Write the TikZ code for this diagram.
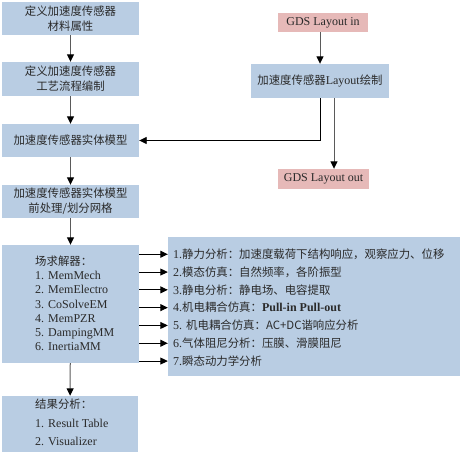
\documentclass[tikz,border=0pt]{standalone}
\usepackage{fontspec}
\setmainfont{Liberation Serif}
\newfontfamily\cjk[Scale=0.95]{Noto Sans CJK SC}
\usetikzlibrary{arrows.meta}
\newcommand\zh[1]{{\cjk #1}}
\definecolor{boxblue}{HTML}{B9CDE3}
\definecolor{boxpink}{HTML}{E6B9B8}
\definecolor{txt}{HTML}{2A2A2A}
\definecolor{vgray}{HTML}{5A5A5A}
\begin{document}
\begin{tikzpicture}[x=1pt,y=-1pt,
  font=\fontsize{12}{15}\selectfont, text=txt,
  bluebox/.style={fill=boxblue,inner sep=0pt,align=center},
  pinkbox/.style={fill=boxpink,inner sep=0pt,align=center},
  line/.style={anchor=base west,inner sep=0pt,text height=8.5pt,text depth=0pt},
  varr/.style={draw=vgray,line width=1pt,-{Triangle[length=7.5pt,width=7pt,color=black]}},
  harr/.style={draw=black,line width=0.9pt,-{Triangle[length=7.5pt,width=7pt,color=black]}}]
\useasboundingbox (0,0) rectangle (465,454);

% left column
\node[bluebox,minimum width=137pt,minimum height=33pt] (b1) at (70.5,18.5) {\zh{定义加速度传感器}\\\zh{材料属性}};
\node[bluebox,minimum width=137pt,minimum height=34pt] (b2) at (70.5,79) {\zh{定义加速度传感器}\\\zh{工艺流程编制}};
\node[bluebox,minimum width=137pt,minimum height=33pt] (b3) at (70.5,140.5) {\zh{加速度传感器实体模型}};
\node[bluebox,minimum width=137pt,minimum height=33pt] (b4) at (70.5,201.5) {\zh{加速度传感器实体模型}\\\zh{前处理/划分网格}};
\node[bluebox,minimum width=137pt,minimum height=118pt] (solver) at (70.5,304) {};
\node[bluebox,minimum width=136pt,minimum height=56pt] (result) at (70,424) {};

% solver text
\node[line] (s0) at (35,265.5) {\zh{场求解器：}};
\node[line] (s1) at (35,279.7) {1. MemMech};
\node[line] (s2) at (35,293.9) {2. MemElectro};
\node[line] (s3) at (35,308.1) {3. CoSolveEM};
\node[line] (s4) at (35,322.3) {4. MemPZR};
\node[line] (s5) at (35,336.5) {5. DampingMM};
\node[line] (s6) at (35,350.7) {6. InertiaMM};

% result text
\node[line] (r0) at (35,408.5) {\zh{结果分析：}};
\node[line] (r1) at (35,427) {1. Result Table};
\node[line] (r2) at (35,445) {2. Visualizer};

% right column
\node[pinkbox,minimum width=90pt,minimum height=19pt] (gdsin) at (323,22.5) {GDS Layout in};
\node[bluebox,minimum width=138pt,minimum height=34pt] (layout) at (320,81) {\zh{加速度传感器}Layout\zh{绘制}};
\node[pinkbox,minimum width=91pt,minimum height=20pt] (gdsout) at (323.5,179) {GDS Layout out};

% analysis list
\node[bluebox,minimum width=292pt,minimum height=139pt] (list) at (314,306.5) {};
\node[line] (l1) at (173,258.5) {1.\zh{静力分析：加速度载荷下结构响应，观察应力、位移}};
\node[line] (l2) at (173,276.3) {2.\zh{模态仿真：自然频率，各阶振型}};
\node[line] (l3) at (173,294.1) {3.\zh{静电分析：静电场、电容提取}};
\node[line] (l4) at (173,311.9) {4.\zh{机电耦合仿真：}\textbf{Pull-in Pull-out}};
\node[line] (l5) at (173,329.7) {5. \zh{机电耦合仿真：AC+DC谐响应分析}};
\node[line] (l6) at (173,347.5) {6.\zh{气体阻尼分析：压膜、滑膜阻尼}};
\node[line] (l7) at (173,365.3) {7.\zh{瞬态动力学分析}};

% connectors
\draw[varr] (b1) -- (b2);
\draw[varr] (b2) -- (b3);
\draw[varr] (b3) -- (b4);
\draw[varr] (b4) -- (solver);
\draw[varr] (solver) -- (result);
\draw[varr] (layout.north |- gdsin.south) -- (layout.north);
\draw[harr] (layout.south) |- (b3.east);
\draw[varr] ([xshift=14pt]layout.south) -- ([xshift=14pt]layout.south |- gdsout.north);
\foreach \i in {1,...,7}
  \draw[harr] (solver.east |- l\i.west) -- (list.west |- l\i.west);
\end{tikzpicture}
\end{document}
